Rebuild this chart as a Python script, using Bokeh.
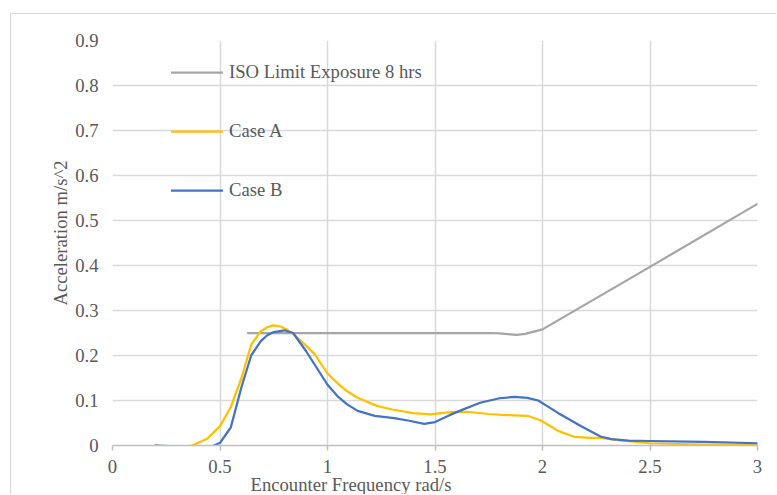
import numpy as np
from bokeh.plotting import figure
from bokeh.models import (Range1d, FixedTicker, NumeralTickFormatter, Legend,
                          LegendItem, Title)
from bokeh.embed import file_html
from bokeh.resources import INLINE

# ---- data ----
iso_x = [0.63, 0.8, 1.0, 1.25, 1.5, 1.6, 1.75, 1.8, 1.85, 1.88, 1.92, 1.96, 2.0, 2.5, 3.0]
iso_y = [0.25, 0.25, 0.25, 0.25, 0.25, 0.25, 0.25, 0.249, 0.247, 0.246, 0.248, 0.253, 0.258, 0.397, 0.537]

case_a_x = [0.2, 0.3, 0.37, 0.44, 0.5, 0.55, 0.6, 0.645, 0.69, 0.72, 0.75, 0.78, 0.81, 0.84, 0.9, 0.94,
            1.0, 1.05, 1.09, 1.14, 1.23, 1.3, 1.4, 1.48, 1.57, 1.65, 1.75, 1.81, 1.93, 1.99,
            2.03, 2.07, 2.15, 2.22, 2.27, 2.35, 2.5, 2.75, 3.0]
case_a_y = [0.0, -0.004, 0.0, 0.015, 0.043, 0.085, 0.15, 0.224, 0.254, 0.263, 0.267, 0.265, 0.258, 0.248, 0.222, 0.203,
            0.16, 0.137, 0.121, 0.106, 0.088, 0.08, 0.072, 0.069, 0.074, 0.075, 0.07, 0.068, 0.066, 0.056,
            0.045, 0.033, 0.019, 0.017, 0.017, 0.012, 0.005, 0.002, 0.001]

case_b_x = [0.2, 0.3, 0.4, 0.46, 0.5, 0.55, 0.6, 0.645, 0.69, 0.72, 0.75, 0.8, 0.84, 0.9, 0.94,
            1.0, 1.05, 1.09, 1.14, 1.22, 1.31, 1.38, 1.45, 1.5, 1.57, 1.62, 1.71, 1.8, 1.87,
            1.93, 1.98, 2.02, 2.07, 2.18, 2.27, 2.32, 2.4, 2.5, 2.75, 3.0]
case_b_y = [0.0, -0.002, -0.002, -0.003, 0.006, 0.04, 0.13, 0.2, 0.232, 0.245, 0.252, 0.256, 0.25, 0.21, 0.18,
            0.135, 0.108, 0.092, 0.077, 0.066, 0.061, 0.055, 0.048, 0.052, 0.068, 0.078, 0.095, 0.105, 0.108,
            0.106, 0.1, 0.088, 0.073, 0.043, 0.02, 0.014, 0.011, 0.01, 0.008, 0.005]

x_ticks = [0, 0.5, 1, 1.5, 2, 2.5, 3]
y_ticks = [0, 0.1, 0.2, 0.3, 0.4, 0.5, 0.6, 0.7, 0.8, 0.9]

series_names = ["ISO Limit Exposure 8 hrs", "Case A", "Case B"]
x_title = "Encounter Frequency rad/s"
y_title = "Acceleration m/s^2"

FONT = "Liberation Serif"
FSIZE = "14pt"
TXT = "#595959"
GRID = "#d9d9d9"

p = figure(width=766, height=481, output_backend="svg", toolbar_location=None,
           x_range=Range1d(0, 3), y_range=Range1d(0, 0.9),
           min_border_left=101, min_border_right=20, min_border_top=26, min_border_bottom=50)
p.margin = (13, 0, 0, 10)
p.styles = {"border-top": "1px solid #d9d9d9", "border-left": "1px solid #d9d9d9"}
p.background_fill_color = "white"
p.border_fill_color = "white"
p.outline_line_color = None

# axes
p.xaxis.ticker = FixedTicker(ticks=x_ticks)
p.yaxis.ticker = FixedTicker(ticks=y_ticks)
p.xaxis.formatter = NumeralTickFormatter(format="0.[0]")
p.yaxis.formatter = NumeralTickFormatter(format="0.[0]")
for ax in (p.xaxis[0], p.yaxis[0]):
    ax.major_label_text_font = FONT
    ax.major_label_text_font_size = FSIZE
    ax.major_label_text_font_style = "normal"
    ax.major_label_text_color = TXT
    ax.minor_tick_line_color = None
p.xaxis.axis_line_color = "#bfbfbf"
p.xaxis.axis_line_width = 1.5
p.xaxis.major_tick_line_color = "#bfbfbf"
p.xaxis.major_tick_line_width = 1.5
p.xaxis.major_tick_in = 0
p.xaxis.major_tick_out = 5
p.xaxis.major_label_standoff = 9
p.yaxis.axis_line_color = None
p.yaxis.major_tick_line_color = None
p.yaxis.major_tick_in = 0
p.yaxis.major_tick_out = 0
p.yaxis.major_label_standoff = 14

p.xgrid.grid_line_color = GRID
p.ygrid.grid_line_color = GRID
p.xgrid.grid_line_width = 1.5
p.ygrid.grid_line_width = 1.5

# series
r_iso = p.line(iso_x, iso_y, line_color="#a5a5a5", line_width=2.25, line_join="round", line_cap="round")
r_a = p.line(case_a_x, case_a_y, line_color="#ffc000", line_width=2.25, line_join="round", line_cap="round")
r_b = p.line(case_b_x, case_b_y, line_color="#4472c4", line_width=2.25, line_join="round", line_cap="round")

legend = Legend(items=[LegendItem(label=series_names[0], renderers=[r_iso]),
                       LegendItem(label=series_names[1], renderers=[r_a]),
                       LegendItem(label=series_names[2], renderers=[r_b])],
                location=(59, 244), glyph_width=52, glyph_height=22, label_height=22,
                label_standoff=6, spacing=37, padding=0, margin=0,
                border_line_color=None, background_fill_alpha=0,
                label_text_font=FONT, label_text_font_style="normal",
                label_text_font_size=FSIZE, label_text_color=TXT)
p.add_layout(legend)

# axis titles
p.add_layout(Title(text=x_title, align="left", offset=138, standoff=-7,
                   text_font=FONT, text_font_size=FSIZE, text_font_style="normal",
                   text_color=TXT), "below")
p.add_layout(Title(text=y_title, align="left", offset=140, standoff=4,
                   text_font=FONT, text_font_size=FSIZE, text_font_style="normal",
                   text_color=TXT), "left")

open("out.html", "w").write(file_html(p, INLINE))
